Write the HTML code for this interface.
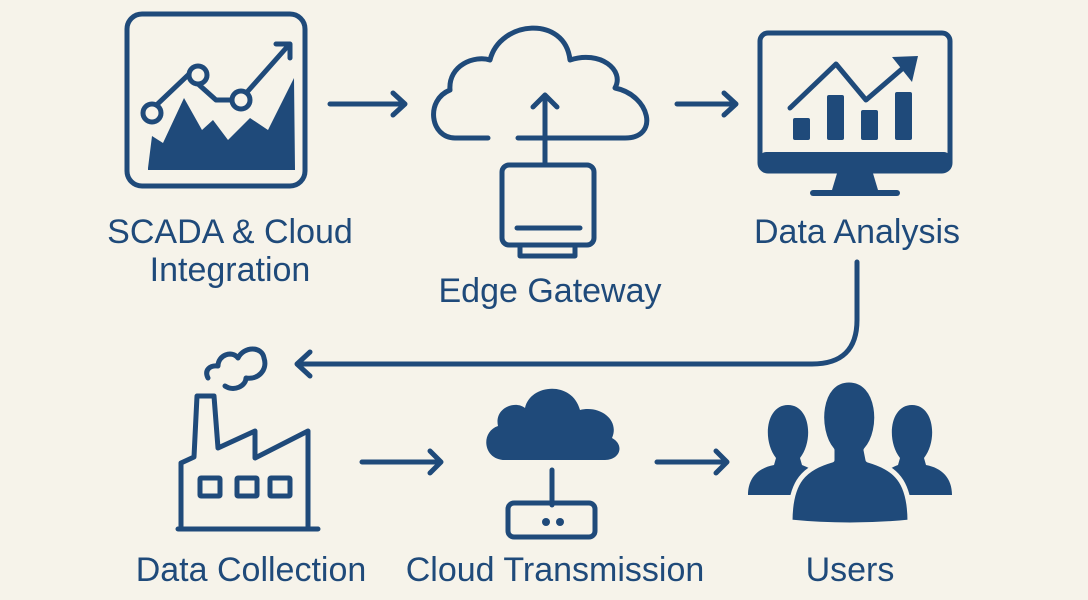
<!DOCTYPE html>
<html><head><meta charset="utf-8"><style>
html,body{margin:0;padding:0;background:#f6f3ea;}
svg{display:block}
text{font-family:"Liberation Sans",Arial,sans-serif;fill:#1f4a7a;font-size:34px;text-anchor:middle}
</style></head><body>
<svg width="1088" height="600" viewBox="0 0 1088 600" xmlns="http://www.w3.org/2000/svg">
<rect width="1088" height="600" fill="#f6f3ea"/>
<g stroke="#1f4a7a" fill="none" stroke-width="5" stroke-linecap="round" stroke-linejoin="round">
<!-- SCADA box -->
<rect x="127" y="14" width="178" height="172" rx="15"/>
<path d="M148 113 L188 75 L216 100 L240 100 L287 47"/>
<path d="M276 44 L290 44 L290 58"/>
<!-- arrows -->
<path d="M330 104 H404 M393 93 L405 104 L393 115"/>
<path d="M677 104 H735 M724 93 L736 104 L724 115"/>
<path d="M362 462 H440 M430 451 L441 462 L430 473"/>
<path d="M657 462 H726 M716 451 L727 462 L716 473"/>
<!-- Edge cloud -->
<path d="M488 138 H455 C430 138 425 100 450 90 C448 65 475 55 490 60 C500 20 565 15 570 60 C600 50 625 70 615 88 C650 95 660 138 625 138 H518"/>
<path d="M545 165 V95 M533 107 L545 95 L557 107"/>
<rect x="502" y="165" width="92" height="80" rx="7"/>
<path d="M517 228 H580"/>
<path d="M520 245 V256 H575 V245"/>
<!-- monitor -->
<rect x="760" y="33" width="190" height="138" rx="8"/>
<path d="M790 108 L836 64 L866 100 L910 62"/>
<!-- curve connector -->
<path d="M857 262 V320 Q857 364 812 364 H298 M310 352 L297 364 L310 376"/>
<!-- factory -->
<path d="M178 529 H318 M181 529 V463 L194 457 L197 396 H214 L218 448 L255 431 V458 L308 431 V529"/>
<rect x="200" y="478" width="20" height="18" rx="1"/>
<rect x="237" y="478" width="20" height="18" rx="1"/>
<rect x="270" y="478" width="20" height="18" rx="1"/>
<path d="M208 378 C204 370 210 365 218 366 C218 355 232 350 238 358 C244 346 262 346 264 358 C268 370 258 380 246 378 C246 386 234 392 225 386"/>
<!-- cloud transmission -->
<path d="M552 470 V505"/>
<rect x="508" y="503" width="87" height="34" rx="6"/>
</g>
<g fill="#1f4a7a">
<!-- SCADA mountains -->
<path d="M148 168 L152 136 L163 143 L184 98 L202 130 L213 120 L228 140 L250 118 L268 130 L294 78 L295 170 L148 170 Z"/>
<circle cx="152" cy="113" r="9" fill="#f6f3ea" stroke="#1f4a7a" stroke-width="5"/>
<circle cx="198" cy="75" r="9" fill="#f6f3ea" stroke="#1f4a7a" stroke-width="5"/>
<circle cx="241" cy="100" r="9" fill="#f6f3ea" stroke="#1f4a7a" stroke-width="5"/>
<!-- monitor -->
<rect x="760" y="152" width="190" height="20" rx="6"/>
<path d="M838 170 H872 L878 190 H832 Z"/>
<rect x="810" y="190" width="90" height="6" rx="3"/>
<rect x="793" y="118" width="17" height="22" rx="2"/>
<rect x="827" y="95" width="17" height="45" rx="2"/>
<rect x="861" y="110" width="17" height="30" rx="2"/>
<rect x="895" y="92" width="17" height="48" rx="2"/>
<path d="M892 57 L918 56 L912 82 Z"/>
<!-- filled cloud -->
<path d="M505 460 C483 460 480 432 498 426 C494 408 515 400 525 408 C530 384 572 380 580 410 C600 405 620 420 612 438 C625 445 620 460 605 460 Z"/>
<circle cx="546" cy="522" r="4"/><circle cx="560" cy="522" r="4"/>
<!-- users -->
<path d="M776 458 C762 440 766 405 788 405 C810 405 814 440 800 458 L802 465 C815 470 820 475 820 490 L820 495 L748 495 C748 478 758 468 774 465 Z"/>
<path d="M924 458 C938 440 934 405 912 405 C890 405 886 440 900 458 L898 465 C885 470 880 475 880 490 L880 495 L952 495 C952 478 942 468 926 465 Z"/>
<path d="M832 450 C815 430 818 380 849 380 C880 380 884 430 866 450 L868 460 C895 468 910 480 910 522 Q850 528 790 522 C790 480 805 468 832 460 Z" stroke="#f6f3ea" stroke-width="5" stroke-linejoin="round"/>
</g>
<text x="230" y="243">SCADA &amp; Cloud</text>
<text x="230" y="281">Integration</text>
<text x="550" y="302">Edge Gateway</text>
<text x="857" y="243">Data Analysis</text>
<text x="251" y="581">Data Collection</text>
<text x="555" y="581">Cloud Transmission</text>
<text x="850" y="581">Users</text>
</svg>
</body></html>
